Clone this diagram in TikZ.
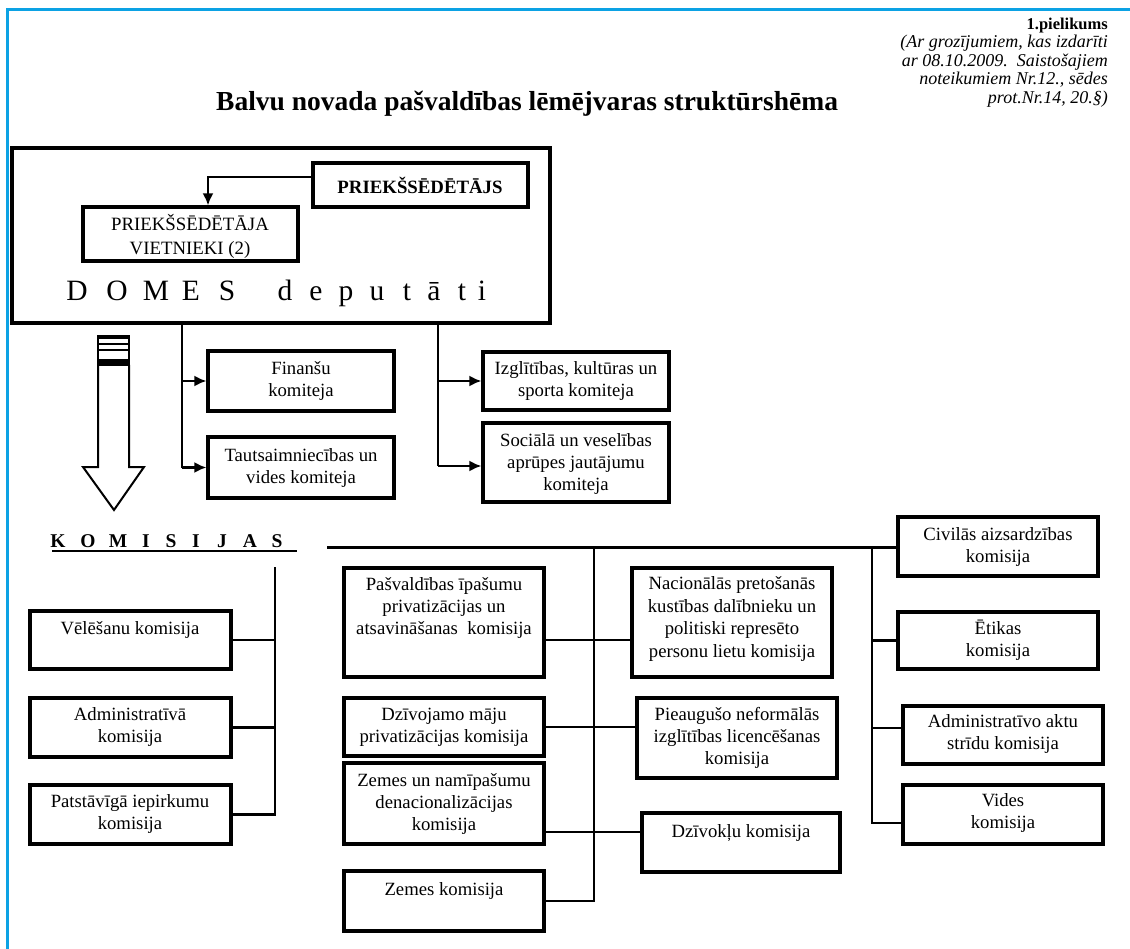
\documentclass[tikz,border=0pt]{standalone}
\usepackage{fontspec}
\setmainfont{Liberation Serif}
\usetikzlibrary{arrows.meta,fit}
\definecolor{edgeblue}{RGB}{12,162,228}
\begin{document}
\begin{tikzpicture}[x=1pt,y=-1pt,
  box/.style={draw, line width=3.1pt, inner sep=0pt},
  txt/.style={align=center, font=\fontsize{18.7}{22.4}\selectfont, inner sep=0pt},
  conn/.style={line width=2.8pt},
  thinconn/.style={line width=1.8pt},
  arr/.style={line width=2.6pt, -{Latex[length=12pt,width=11pt]}},
  note/.style={anchor=base east, inner sep=0pt, font=\fontsize{18}{18.4}\selectfont\itshape},
  big/.style={anchor=base, inner sep=0pt, font=\fontsize{29.5}{30}\selectfont},
  kom/.style={anchor=base, inner sep=0pt, font=\fontsize{19.5}{20}\selectfont\bfseries},
]
\useasboundingbox (0,0) rectangle (1130,949);
% blue page edge
\draw[edgeblue, line width=3pt] (1130,9.5) -- (7.5,9.5) -- (7.5,949);

% header
\node[anchor=base east, inner sep=0pt, font=\fontsize{16.5}{18}\selectfont\bfseries] (pl) at (1108,30) {1.pielikums};
\node[note] (n1) at (1108,48) {(Ar grozījumiem, kas izdarīti};
\node[note] (n2) at (1108,66.5) {ar 08.10.2009.\ \ Saistošajiem};
\node[note] (n3) at (1108,85) {noteikumiem Nr.12., sēdes};
\node[note] (n4) at (1108,103.5) {prot.Nr.14, 20.§)};
\node[anchor=base west, inner sep=0pt, font=\fontsize{27.5}{30}\selectfont\bfseries] (title) at (216,111) {Balvu novada pašvaldības lēmējvaras struktūrshēma};

% council block
\node[box, line width=3.2pt, fit={(12,148) (550,323)}] (domes) {};
\node[box, fit={(313,163) (528,207)}] (priek) {};
\node[box, fit={(83,207) (298,261)}] (viet) {};
\node[txt, font=\fontsize{18.8}{22}\selectfont\bfseries] (priekt) at (420,185) {PRIEKŠSĒDĒTĀJS};
\node[txt, font=\fontsize{18.8}{24}\selectfont] (vitt) at (190,236) {PRIEKŠSĒDĒTĀJA\\VIETNIEKI (2)};
\coordinate (ak) at (208,177);
\draw[arr] (ak -| priek.west) -- (ak) -- (ak |- viet.north);
\foreach \ch/\xx [count=\i] in {D/77,O/117,M/156,E/191,S/227,d/285,e/316,p/346,u/377,t/407,ā/434,t/462,i/482}
  \node[big] (dl\i) at (\xx,301) {\ch};

% committees
\node[box, fit={(208,351) (394,411)}] (fin) {};
\node[box, fit={(208,437) (394,498)}] (taut) {};
\node[box, fit={(483,352) (669,410)}] (izgl) {};
\node[box, fit={(483,423) (669,502)}] (soc) {};
\node[txt] (fint) at (301,381) {Finanšu\\komiteja};
\node[txt] (tautt) at (301,468) {Tautsaimniecības un\\vides komiteja};
\node[txt] (izglt) at (576,381) {Izglītības, kultūras un\\sporta komiteja};
\node[txt] (soct) at (576,464) {Sociālā un veselības\\aprūpes jautājumu\\komiteja};
\coordinate (lv) at (182,0);
\draw[thinconn] (domes.south -| lv) -- (lv |- taut.west);
\draw[arr] (lv |- fin.west) -- (fin.west);
\draw[arr] (lv |- taut.west) -- (taut.west);
\coordinate (rv0) at (438,466);
\draw[thinconn] (domes.south -| rv0) -- (rv0);
\draw[arr] (rv0 |- izgl.west) -- (izgl.west);
\draw[arr] (rv0) -- (rv0 -| soc.west);

% hollow striped arrow
\draw[line width=2pt] (98,336) rectangle (129,365);
\draw[line width=1.4pt] (98,344) -- (129,344) (98,350) -- (129,350);
\fill (97,335) rectangle (130,339);
\fill (97,359) rectangle (130,366);
\draw[line width=2pt, line join=miter] (98,365) -- (98,467) -- (83,467) -- (114,510) -- (144,467) -- (129,467) -- (129,365);

% KOMISIJAS
\foreach \ch/\xx [count=\i] in {K/58,O/88,M/118,I/146,S/171,I/196,J/222,A/250,S/277}
  \node[kom] (kl\i) at (\xx,547) {\ch};
\draw[line width=2.2pt] (52,551) -- (297,551);

% commissions boxes
\node[box, fit={(30,611) (231,669)}] (vel) {};
\node[box, fit={(30,698) (231,757)}] (adm) {};
\node[box, fit={(30,785) (231,844)}] (pat) {};
\node[box, fit={(344,568) (544,677)}] (pas) {};
\node[box, fit={(632,568) (832,677)}] (nac) {};
\node[box, fit={(344,698) (544,756)}] (dzi) {};
\node[box, fit={(637,698) (837,778)}] (pie) {};
\node[box, fit={(344,763) (544,844)}] (zem) {};
\node[box, fit={(642,813) (840,872)}] (dzv) {};
\node[box, fit={(344,871) (544,931)}] (zk) {};
\node[box, fit={(898,517) (1098,576)}] (civ) {};
\node[box, fit={(898,612) (1098,669)}] (eti) {};
\node[box, fit={(903,706) (1103,764)}] (aak) {};
\node[box, fit={(903,785) (1103,844)}] (vid) {};

\node[txt] (velt) at (130,630) {Vēlēšanu komisija};
\node[txt] (admt) at (130,727) {Administratīvā\\komisija};
\node[txt] (patt) at (130,814) {Patstāvīgā iepirkumu\\komisija};
\node[txt] (past) at (444,608) {Pašvaldības īpašumu\\privatizācijas un\\atsavināšanas\ \ komisija};
\node[txt] (nact) at (732,619) {Nacionālās pretošanās\\kustības dalībnieku un\\politiski represēto\\personu lietu komisija};
\node[txt] (dzit) at (444,727) {Dzīvojamo māju\\privatizācijas komisija};
\node[txt] (piet) at (737,738) {Pieaugušo neformālās\\izglītības licencēšanas\\komisija};
\node[txt] (zemt) at (444,804) {Zemes un namīpašumu\\denacionalizācijas\\komisija};
\node[txt] (dzvt) at (741,833) {Dzīvokļu komisija};
\node[txt] (zkt) at (444,891) {Zemes komisija};
\node[txt] (civt) at (998,547) {Civilās aizsardzības\\komisija};
\node[txt] (etit) at (998,640) {Ētikas\\komisija};
\node[txt] (aakt) at (1003,734) {Administratīvo aktu\\strīdu komisija};
\node[txt] (vidt) at (1003,813) {Vides\\komisija};

% commission connectors
\coordinate (lg) at (275,567);
\draw[conn] (lg) |- (pat.east);
\draw[conn] (vel.east) -- (vel.east -| lg);
\draw[conn] (adm.east) -- (adm.east -| lg);
\coordinate (hl) at (327,547.5);
\draw[conn] (hl) -- (hl -| civ.west);
\coordinate (cv) at (594,547.5);
\draw[conn] (cv) |- (zk.east);
\coordinate (j1) at (594,640);
\draw[conn] (pas.east |- j1) -- (nac.west |- j1);
\draw[conn] (dzi.east) -- (dzi.east -| pie.west);
\coordinate (j3) at (594,832);
\draw[conn] (zem.east |- j3) -- (dzv.west |- j3);
\coordinate (rv) at (872,547.5);
\coordinate (r4) at (872,823);
\draw[conn] (rv) -- (r4) -- (r4 -| vid.west);
\draw[conn] (eti.west) -- (eti.west -| rv);
\coordinate (r3) at (872,728);
\draw[conn] (r3) -- (r3 -| aak.west);
\end{tikzpicture}
\end{document}
